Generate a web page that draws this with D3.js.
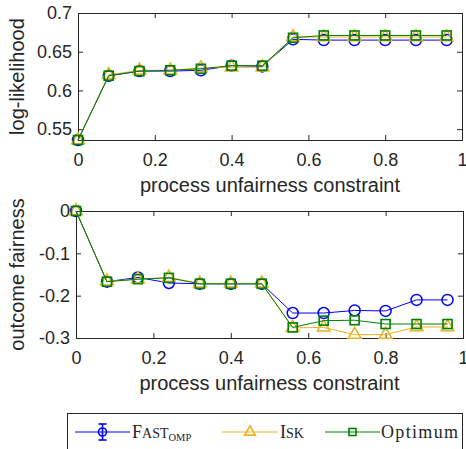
<!DOCTYPE html>
<html>
<head>
<meta charset="utf-8">
<script src="https://cdn.jsdelivr.net/npm/d3@7"></script>
<style>
  body { margin: 0; background: #fff; }
  svg { display: block; }
  .tick text { font-family: "Liberation Sans", Arial, sans-serif; font-size: 18px; fill: #262626; }
  .axlab { font-family: "Liberation Sans", Arial, sans-serif; font-size: 20px; fill: #262626; }
</style>
</head>
<body>
<script>
var width = 466,
    height = 449;

var xs = [0, 0.08, 0.16, 0.24, 0.32, 0.40, 0.48, 0.56, 0.64, 0.72, 0.80, 0.88, 0.96];

// log-likelihood
var llFast = [0.536, 0.619, 0.625, 0.625, 0.626, 0.632, 0.631, 0.666, 0.665, 0.665, 0.665, 0.665, 0.665];
var llIsk  = [0.536, 0.620, 0.626, 0.626, 0.629, 0.630, 0.630, 0.669, 0.669, 0.669, 0.669, 0.669, 0.669];
var llOpt  = [0.536, 0.619, 0.625, 0.626, 0.628, 0.632, 0.632, 0.668, 0.671, 0.671, 0.671, 0.671, 0.671];

// outcome fairness
var ofFast = [0, -0.167, -0.157, -0.170, -0.172, -0.172, -0.172, -0.241, -0.241, -0.235, -0.236, -0.210, -0.210];
var ofIsk  = [0, -0.166, -0.161, -0.157, -0.171, -0.171, -0.171, -0.276, -0.275, -0.292, -0.292, -0.274, -0.274];
var ofOpt  = [0, -0.167, -0.161, -0.158, -0.172, -0.172, -0.172, -0.275, -0.259, -0.258, -0.267, -0.267, -0.267];

var xTicks = [0, 0.2, 0.4, 0.6, 0.8, 1];
var llTicks = [0.55, 0.6, 0.65, 0.7];
var ofTicks = [-0.3, -0.2, -0.1, 0];

var series = [
  {name: "fast", color: "#0000ff", marker: "circle"},
  {name: "isk", color: "#edb120", marker: "triangle"},
  {name: "opt", color: "#008000", marker: "square"}
];

var svg = d3.select("body").append("svg")
    .attr("width", width)
    .attr("height", height);

// plain hyphen for negatives, like the original
var fmt = function(d) { return d3.format("~g")(d).replace("\u2212", "-"); };

function marker(g, type, color) {
  if (type === "circle") {
    g.append("circle").attr("r", 5.5).attr("fill", "none")
      .attr("stroke", color).attr("stroke-width", 1.5);
  } else if (type === "triangle") {
    g.append("path").attr("d", d3.symbol().type(d3.symbolTriangle).size(70))
      .attr("fill", "none").attr("stroke", color).attr("stroke-width", 1.5);
  } else {
    g.append("rect").attr("x", -4.5).attr("y", -4.5).attr("width", 9).attr("height", 9)
      .attr("fill", "none").attr("stroke", color).attr("stroke-width", 1.6);
  }
}

function panel(box, yDomain, yTicks, data, ylabel) {
  var x = d3.scaleLinear().domain([0, 1]).range([box.l, box.r]);
  var y = d3.scaleLinear().domain(yDomain).range([box.b, box.t]);
  var g = svg.append("g");

  g.append("g").attr("transform", "translate(0," + box.b + ")")
    .call(d3.axisBottom(x).tickValues(xTicks).tickSize(-5).tickPadding(13).tickFormat(fmt));
  g.append("g").attr("transform", "translate(0," + box.t + ")")
    .call(d3.axisTop(x).tickValues(xTicks).tickSize(-5).tickFormat(""));
  g.append("g").attr("transform", "translate(" + box.l + ",0)")
    .call(d3.axisLeft(y).tickValues(yTicks).tickSize(-5).tickPadding(6).tickFormat(fmt));
  g.append("g").attr("transform", "translate(" + box.r + ",0)")
    .call(d3.axisRight(y).tickValues(yTicks).tickSize(-5).tickFormat(""));
  g.selectAll(".domain").attr("stroke", "#262626");
  g.selectAll(".tick line").attr("stroke", "#262626");

  var line = d3.line().x(function(d, i) { return x(xs[i]); }).y(function(d) { return y(d); });

  data.forEach(function(vals, k) {
    var s = series[k];
    g.append("path").datum(vals).attr("d", line)
      .attr("fill", "none").attr("stroke", s.color).attr("stroke-width", 1);
    vals.forEach(function(v, i) {
      var m = g.append("g").attr("transform", "translate(" + x(xs[i]) + "," + y(v) + ")");
      marker(m, s.marker, s.color);
    });
  });

  g.append("text").attr("class", "axlab")
    .attr("x", (box.l + box.r) / 2).attr("y", box.b + 52)
    .attr("text-anchor", "middle").text("process unfairness constraint");
  g.append("text").attr("class", "axlab")
    .attr("transform", "translate(" + 24 + "," + (box.t + box.b) / 2 + ") rotate(-90)")
    .attr("text-anchor", "middle").text(ylabel);
}

panel({l: 78, r: 462, t: 13, b: 140}, [0.536, 0.7], llTicks, [llFast, llIsk, llOpt], "log-likelihood");
panel({l: 76, r: 463, t: 211, b: 338}, [-0.3, 0], ofTicks, [ofFast, ofIsk, ofOpt], "outcome fairness");

// legend
var lg = svg.append("g");
lg.append("rect").attr("x", 67.5).attr("y", 413.5).attr("width", 395).attr("height", 40)
  .attr("fill", "#fff").attr("stroke", "#262626").attr("stroke-width", 1);

var ly = 432;
var items = [
  {x0: 75, x1: 130, color: "#0000ff"},
  {x0: 222, x1: 278, color: "#edb120"},
  {x0: 325, x1: 380, color: "#008000"}
];
items.forEach(function(it, k) {
  lg.append("line").attr("x1", it.x0).attr("x2", it.x1).attr("y1", ly).attr("y2", ly)
    .attr("stroke", it.color).attr("stroke-width", 1);
  var m = lg.append("g").attr("transform", "translate(" + ((it.x0 + it.x1) / 2) + "," + ly + ")");
  if (k === 0) {
    m.append("line").attr("x1", 0).attr("x2", 0).attr("y1", -8).attr("y2", 8)
      .attr("stroke", it.color).attr("stroke-width", 1.6);
    m.append("line").attr("x1", -4).attr("x2", 4).attr("y1", -8).attr("y2", -8)
      .attr("stroke", it.color).attr("stroke-width", 1.6);
    m.append("line").attr("x1", -4).attr("x2", 4).attr("y1", 8).attr("y2", 8)
      .attr("stroke", it.color).attr("stroke-width", 1.6);
    m.append("circle").attr("r", 4).attr("fill", "none")
      .attr("stroke", it.color).attr("stroke-width", 1.6);
  } else if (k === 1) {
    m.append("path").attr("d", d3.symbol().type(d3.symbolTriangle).size(50))
      .attr("fill", "none").attr("stroke", it.color).attr("stroke-width", 1.6);
  } else {
    m.append("rect").attr("x", -3.5).attr("y", -3.5).attr("width", 7).attr("height", 7)
      .attr("fill", "none").attr("stroke", it.color).attr("stroke-width", 1.6);
  }
});

var serif = "'Liberation Serif', 'DejaVu Serif', serif";
var t1 = lg.append("text").attr("x", 132).attr("y", ly + 6)
  .style("font-family", serif).style("font-size", "18px").attr("fill", "#262626");
t1.append("tspan").text("F");
t1.append("tspan").style("font-size", "14px").text("AST");
t1.append("tspan").style("font-size", "10.5px").attr("dy", 3).text("OMP");

var t2 = lg.append("text").attr("x", 280).attr("y", ly + 6)
  .style("font-family", serif).style("font-size", "18px").attr("fill", "#262626");
t2.append("tspan").text("I");
t2.append("tspan").style("font-size", "14px").text("SK");

lg.append("text").attr("x", 381).attr("y", ly + 6)
  .style("font-family", serif).style("font-size", "18px").attr("fill", "#262626")
  .attr("textLength", 77).text("Optimum");
</script>
</body>
</html>
